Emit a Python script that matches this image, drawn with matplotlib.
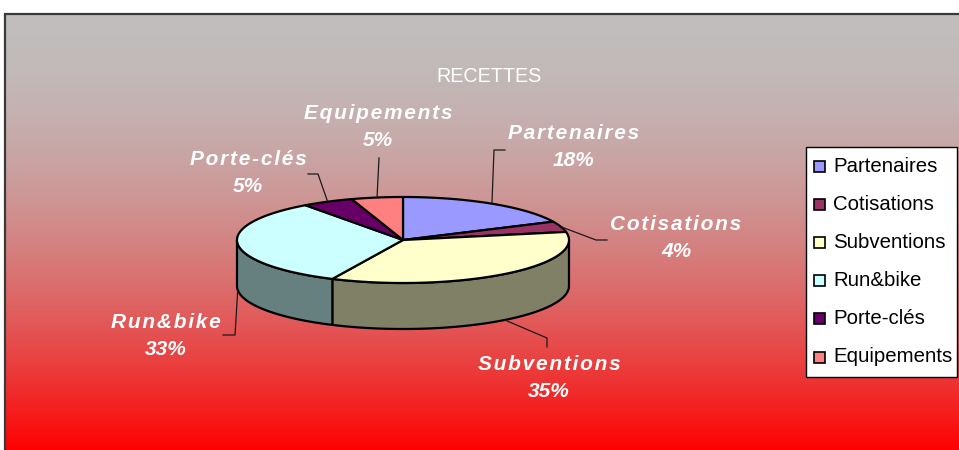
import numpy as np
import matplotlib
matplotlib.use("Agg")
import matplotlib.pyplot as plt
from matplotlib.patches import Polygon, Rectangle
from matplotlib.colors import to_rgb

# data
categories = ["Partenaires", "Cotisations", "Subventions", "Run&bike", "Porte-clés", "Equipements"]
values = [18, 4, 35, 33, 5, 5]
top_colors = ["#9999FF", "#993366", "#FFFFCC", "#CCFFFF", "#660066", "#FF8080"]

plt.rcParams['font.family'] = ['Liberation Sans', 'DejaVu Sans']

W, H = 959, 450
fig = plt.figure(figsize=(W / 100, H / 100), dpi=100)
ax = fig.add_axes([0, 0, 1, 1])
ax.set_xlim(0, W)
ax.set_ylim(H, 0)
ax.axis("off")

# background gradient grey -> red
top = np.array([192, 190, 189]) / 255
bot = np.array([255, 0, 0]) / 255
f = np.linspace(0, 1, 400) ** 1.8
grad = top[None, :] * (1 - f[:, None]) + bot[None, :] * f[:, None]
ax.imshow(grad[:, None, :], extent=[4, W + 2, H + 2, 13], aspect="auto", zorder=0)
ax.plot([4.5, 4.5, W + 5], [H + 5, 13.5, 13.5], color="#3a3a3a", lw=1.6, zorder=1,
        solid_joinstyle="miter")

# 3d pie geometry
cx, cy, rx, ry, depth = 403, 240, 166, 43, 46


def ell(t):
    t = np.radians(t)
    return cx + rx * np.cos(t), cy - ry * np.sin(t)


total = sum(values)
starts, ends = [], []
a = 90.0
for v in values:
    starts.append(a)
    a -= 360.0 * v / total
    ends.append(a)

# side walls (front half only)
for s, e, c in zip(starts, ends, top_colors):
    dark = tuple(0.5 * np.array(to_rgb(c)))
    for k in (-1, 0, 1):
        lo, hi = -180 + 360 * k, 0 + 360 * k
        a1, a2 = max(e, lo), min(s, hi)
        if a2 <= a1:
            continue
        t = np.linspace(a2, a1, 80)
        x, y = ell(t)
        px = np.concatenate([x, x[::-1]])
        py = np.concatenate([y, (y + depth)[::-1]])
        ax.add_patch(Polygon(np.column_stack([px, py]), closed=True, facecolor=dark,
                             edgecolor="black", lw=1.6, zorder=2, joinstyle="round"))

# top faces
for s, e, c in zip(starts, ends, top_colors):
    t = np.linspace(s, e, 120)
    x, y = ell(t)
    pts = np.vstack([[cx, cy], np.column_stack([x, y])])
    ax.add_patch(Polygon(pts, closed=True, facecolor=c, edgecolor="black", lw=1.6,
                         zorder=3, joinstyle="round"))


def spaced(s):
    # a bit of letter spacing like the original labels
    return "\u200a".join(s)


# labels with leader lines
label_pos = [(574, 147), (676, 238), (549, 378), (166, 336), (248, 173), (378, 127)]
leader_pts = [
    [(494, 150), (505, 150)],
    [(596, 240), (607, 240)],
    [(547, 338), (547, 347)],
    [(235, 335), (223, 335)],
    [(318, 174), (308, 174)],
    [(379, 158)],
]
for s, e, name, v, lp, pts in zip(starts, ends, categories, values, label_pos, leader_pts):
    m = (s + e) / 2
    x0, y0 = ell(m)
    if np.sin(np.radians(m)) < 0:
        y0 += depth
    xs = [x0] + [p[0] for p in pts]
    ys = [y0] + [p[1] for p in pts]
    ax.plot(xs, ys, color="#1a1a1a", lw=0.9, zorder=4)
    ax.text(lp[0], lp[1], spaced(name) + "\n" + f"{v}%", ha="center", va="center",
            ma="center", color="white", fontsize=15, fontweight="bold", fontstyle="italic",
            linespacing=1.55, zorder=5)

# title
ax.text(489, 77, "RECETTES", ha="center", va="center", color="white", fontsize=14.2, zorder=5)

# legend
ax.add_patch(Rectangle((806, 147), 151, 230, facecolor="white", edgecolor="black",
                       lw=1.0, zorder=5))
for i, (name, c) in enumerate(zip(categories, top_colors)):
    yc = 166 + 38.2 * i
    ax.add_patch(Rectangle((814, yc - 5.5), 11, 11, facecolor=c, edgecolor="black",
                           lw=1.2, zorder=6))
    ax.text(833, yc, name, ha="left", va="center", color="black", fontsize=14.7, zorder=6)

fig.savefig("out.png", dpi=100)
